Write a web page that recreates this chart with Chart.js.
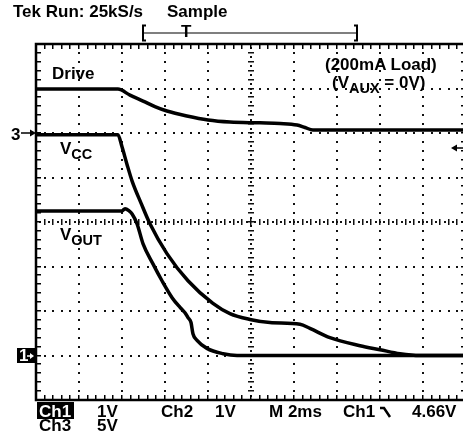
<!DOCTYPE html>
<html>
<head>
<meta charset="utf-8">
<script src="https://cdn.jsdelivr.net/npm/chart.js@4"></script>
<style>
  html, body { margin: 0; padding: 0; background: #fff; overflow: hidden; }
  #wrap { position: relative; width: 470px; height: 442px; }
  .t { position: absolute; font: bold 17px "Liberation Sans", Arial, sans-serif; line-height: 17px; color: #000; white-space: nowrap; }
  .sub { font-size: 14.5px; position: relative; top: 5px; }
  .inv { background: #000; color: #fff; }
</style>
</head>
<body>
<div id="wrap">
  <canvas id="scope" width="470" height="442"></canvas>

  <div class="t" style="left:13px;top:3px">Tek Run: 25kS/s</div>
  <div class="t" style="left:167px;top:3px">Sample</div>
  <div class="t" style="left:181px;top:23px">T</div>

  <div class="t" style="left:52px;top:65px">Drive</div>
  <div class="t" style="left:60px;top:140px">V<span class="sub">CC</span></div>
  <div class="t" style="left:60px;top:226px">V<span class="sub">OUT</span></div>
  <div class="t" style="left:325px;top:56px">(200mA Load)</div>
  <div class="t" style="left:332px;top:74px">(V<span class="sub">AUX</span> = 0V)</div>

  <div class="t" style="left:11px;top:126px">3</div>
  <div class="t inv" style="left:17px;top:348px;width:18px;height:15px;line-height:16px">
    <span style="position:absolute;left:2px;top:0">1</span>
    <svg width="8" height="8" style="position:absolute;left:10px;top:4px"><path d="M0 4 H4" stroke="#fff" stroke-width="1.5"/><path d="M3 1 L7 4 L3 7 Z" fill="#fff"/></svg>
  </div>

  <div class="t inv" style="left:37px;top:402px;width:37px;height:17px;padding-left:2px;box-sizing:border-box;line-height:19px">Ch1</div>
  <div class="t" style="left:97px;top:403px">1V</div>
  <div class="t" style="left:161px;top:403px">Ch2</div>
  <div class="t" style="left:215px;top:403px">1V</div>
  <div class="t" style="left:269px;top:403px">M 2ms</div>
  <div class="t" style="left:343px;top:403px">Ch1 <svg width="12" height="12" style="vertical-align:-1px"><path d="M0 2 H4 L10 11" stroke="#000" stroke-width="2.5" fill="none"/></svg></div>
  <div class="t" style="left:412px;top:403px">4.66V</div>
  <div class="t" style="left:39px;top:417px">Ch3</div>
  <div class="t" style="left:97px;top:417px">5V</div>
</div>

<script>
// screen: 10 x 8 divisions, 2 ms/div
const X_DIVS = 10;
const Y_DIVS = 8;
const MS_PER_DIV = 2;

// channel settings (volts per division, ground position in divisions from bottom)
const CH1_VDIV = 1, CH1_GND = 1;   // VOUT
const CH2_VDIV = 1, CH2_GND = 1;   // VCC
const CH3_VDIV = 5, CH3_GND = 6;   // Drive
const TRIG_LEVEL = 4.66;           // Ch1 volts

// traces, time in ms, voltage in V
const driveTime = [0, 3.81, 4.37, 4.98, 5.53, 6.09, 7.02, 8.0, 9.02, 10.42, 11.35, 12.14, 12.51, 12.88, 20];
const driveVolts = [4.93, 4.93, 4.26, 3.59, 2.97, 2.47, 1.91, 1.46, 1.23, 1.14, 1.07, 0.90, 0.62, 0.34, 0.34];

const vccTime = [0, 3.81, 4.0, 4.23, 4.47, 4.88, 5.30, 6.09, 7.07, 8.23, 9.02, 9.95, 10.88, 12.28, 12.74, 13.67, 15.07, 16.0, 16.93, 17.86, 20];
const vccVolts = [4.96, 4.96, 4.69, 4.30, 3.92, 3.43, 2.96, 2.29, 1.68, 1.17, 0.94, 0.81, 0.74, 0.70, 0.61, 0.40, 0.22, 0.13, 0.04, 0, 0];

const voutTime = [0, 4.0, 4.14, 4.33, 4.47, 4.70, 4.98, 5.44, 5.86, 6.33, 6.70, 6.93, 7.07, 7.21, 7.30, 7.49, 7.95, 8.70, 9.35, 20];
const voutVolts = [3.25, 3.25, 3.30, 3.25, 3.18, 2.96, 2.51, 2.06, 1.68, 1.30, 1.08, 0.96, 0.85, 0.74, 0.49, 0.34, 0.16, 0.04, 0, 0];

function toScreen(times, volts, vdiv, gnd) {
  return times.map((t, i) => ({ x: t, y: volts[i] / vdiv + gnd }));
}

const graticule = {
  id: "graticule",
  beforeDatasetsDraw(chart) {
    const { ctx, chartArea: a, scales: { x, y } } = chart;
    ctx.save();
    ctx.fillStyle = "#111";
    // dotted division lines
    for (let i = 1; i < X_DIVS; i++) {
      if (i === X_DIVS / 2) continue;
      const px = Math.round(x.getPixelForValue(i * MS_PER_DIV));
      for (let k = 1; k < Y_DIVS * 5; k++) {
        const py = Math.round(y.getPixelForValue(k / 5));
        ctx.fillRect(px - 1, py - 1, 2, 2);
      }
    }
    for (let j = 1; j < Y_DIVS; j++) {
      if (j === Y_DIVS / 2) continue;
      const py = Math.round(y.getPixelForValue(j));
      for (let k = 1; k < X_DIVS * 5; k++) {
        const px = Math.round(x.getPixelForValue(k / 5 * MS_PER_DIV));
        ctx.fillRect(px - 1, py - 1, 2, 2);
      }
    }
    // centre lines with minor ticks
    const cx = Math.round(x.getPixelForValue(X_DIVS / 2 * MS_PER_DIV));
    const cy = Math.round(y.getPixelForValue(Y_DIVS / 2));
    for (let k = 1; k < Y_DIVS * 10; k++) {
      const py = Math.round(y.getPixelForValue(k / 10));
      if (k % 2 === 0) ctx.fillRect(cx - 3, py - 1, 6, 1.5);
      else ctx.fillRect(cx - 1, py - 1, 2, 2);
    }
    for (let k = 1; k < X_DIVS * 10; k++) {
      const px = Math.round(x.getPixelForValue(k / 10 * MS_PER_DIV));
      if (k % 2 === 0) ctx.fillRect(px - 1, cy - 3, 1.5, 6);
      else ctx.fillRect(px - 1, cy - 1, 2, 2);
    }
    // border with ticks
    ctx.fillStyle = "#000";
    for (let k = 1; k < X_DIVS * 5; k++) {
      const px = Math.round(x.getPixelForValue(k / 5 * MS_PER_DIV));
      ctx.fillRect(px - 1, a.top, 1.5, 5);
      ctx.fillRect(px - 1, a.bottom - 5, 1.5, 5);
    }
    for (let k = 1; k < Y_DIVS * 5; k++) {
      const py = Math.round(y.getPixelForValue(k / 5));
      ctx.fillRect(a.left, py - 1, 5, 1.5);
      ctx.fillRect(a.right - 5, py - 1, 5, 1.5);
    }
    ctx.strokeStyle = "#000";
    ctx.lineWidth = 2.5;
    ctx.strokeRect(a.left, a.top, a.right - a.left, a.bottom - a.top);
    ctx.restore();
  },
  afterDraw(chart) {
    const { ctx, scales: { y } } = chart;
    ctx.save();
    ctx.strokeStyle = "#000";
    ctx.fillStyle = "#000";
    ctx.lineWidth = 1.5;
    // ch3 ground marker
    const g3 = Math.round(y.getPixelForValue(CH3_GND));
    ctx.beginPath(); ctx.moveTo(21, g3); ctx.lineTo(31, g3); ctx.stroke();
    ctx.beginPath(); ctx.moveTo(30, g3 - 3.5); ctx.lineTo(36, g3); ctx.lineTo(30, g3 + 3.5); ctx.fill();
    // trigger level marker
    const tl = Math.round(y.getPixelForValue(TRIG_LEVEL / CH1_VDIV + CH1_GND));
    ctx.beginPath(); ctx.moveTo(456, tl); ctx.lineTo(466, tl); ctx.stroke();
    ctx.beginPath(); ctx.moveTo(457, tl - 3.5); ctx.lineTo(451, tl); ctx.lineTo(457, tl + 3.5); ctx.fill();
    // record bracket
    ctx.lineWidth = 1.2;
    ctx.beginPath();
    ctx.moveTo(144, 33); ctx.lineTo(356, 33);
    ctx.stroke();
    ctx.lineWidth = 2;
    ctx.beginPath();
    ctx.moveTo(146, 25.5); ctx.lineTo(143, 25.5); ctx.lineTo(143, 40.5); ctx.lineTo(146, 40.5);
    ctx.moveTo(354, 25.5); ctx.lineTo(357, 25.5); ctx.lineTo(357, 40.5); ctx.lineTo(354, 40.5);
    ctx.stroke();
    ctx.restore();
  }
};

const trace = (data) => ({
  data,
  borderColor: "#000",
  borderWidth: 3.5,
  pointRadius: 0,
  fill: false,
  cubicInterpolationMode: "monotone"
});

new Chart(document.getElementById("scope"), {
  type: "line",
  data: {
    datasets: [
      trace(toScreen(driveTime, driveVolts, CH3_VDIV, CH3_GND)),
      trace(toScreen(vccTime, vccVolts, CH2_VDIV, CH2_GND)),
      trace(toScreen(voutTime, voutVolts, CH1_VDIV, CH1_GND))
    ]
  },
  options: {
    responsive: false,
    animation: false,
    events: [],
    layout: { padding: { left: 36, top: 44, right: 4, bottom: 42 } },
    plugins: { legend: { display: false }, tooltip: { enabled: false } },
    scales: {
      x: { type: "linear", min: 0, max: X_DIVS * MS_PER_DIV, display: false },
      y: { type: "linear", min: 0, max: Y_DIVS, display: false }
    }
  },
  plugins: [graticule]
});
</script>
</body>
</html>
